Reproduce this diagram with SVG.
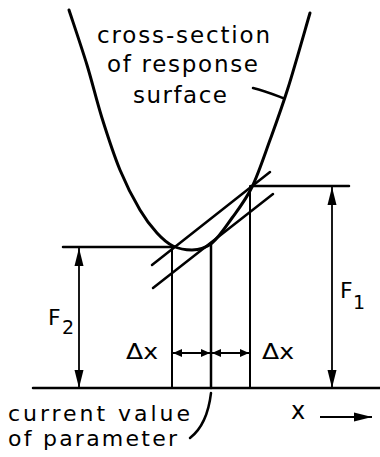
<svg xmlns="http://www.w3.org/2000/svg" width="380" height="457" viewBox="0 0 380 457">
<style>
  .ln{stroke:#000;fill:none;stroke-linecap:round}
  .t{font-family:"DejaVu Sans","Liberation Sans",sans-serif;fill:#000}
</style>
<defs>
  <marker id="big" markerUnits="userSpaceOnUse" markerWidth="19" markerHeight="10" refX="18" refY="5" orient="auto-start-reverse">
    <path d="M0,0.5 L18,5 L0,9.5 z" fill="#000"/>
  </marker>
  <marker id="small" markerUnits="userSpaceOnUse" markerWidth="10" markerHeight="9" refX="9" refY="4.5" orient="auto-start-reverse">
    <path d="M0,0.5 L9,4.5 L0,8.5 z" fill="#000"/>
  </marker>
</defs>
<rect width="380" height="457" fill="#fff"/>

<g id="curve">
  <path class="ln" stroke-width="3" d="M69,10 C72,19.2 81.5,47 87,65 C92.5,83 96.5,100.5 102,118 C107.5,135.5 113.7,154.7 120,170 C126.3,185.3 133.8,199.5 140,210 C146.2,220.5 151.5,227 157,233 C162.5,239 167.2,243.2 173,246 C178.8,248.8 185.5,250 192,250 C198.5,250 205.3,248.3 212,243 C218.7,237.7 225.3,227.3 232,218 C238.7,208.7 245.7,200 252,187 C258.3,174 264,156.5 270,140 C276,123.5 281.3,109.2 288,88 C294.7,66.8 306.3,25.5 310,13"/>
</g>

<g id="secants">
  <line class="ln" stroke-width="2.5" x1="152" y1="265" x2="270" y2="172"/>
  <line class="ln" stroke-width="2.5" x1="153" y1="288" x2="273" y2="194"/>
</g>

<g id="connectors">
  <line class="ln" stroke-width="2.5" x1="33" y1="388" x2="380" y2="388"/>
  <line class="ln" stroke-width="2.5" x1="63" y1="247" x2="173" y2="247"/>
  <line class="ln" stroke-width="2.5" x1="251" y1="186" x2="349" y2="186"/>
  <line class="ln" stroke-width="2" x1="172" y1="247" x2="172" y2="388"/>
  <line class="ln" stroke-width="2.5" x1="211" y1="243" x2="211" y2="388"/>
  <line class="ln" stroke-width="2" x1="250" y1="186" x2="250" y2="388"/>
  <line stroke="#000" stroke-width="1.8" x1="79" y1="248" x2="79" y2="388" marker-start="url(#big)" marker-end="url(#big)"/>
  <line stroke="#000" stroke-width="1.8" x1="332" y1="187" x2="332" y2="388" marker-start="url(#big)" marker-end="url(#big)"/>
  <line stroke="#000" stroke-width="2" x1="173" y1="353" x2="210" y2="353" marker-start="url(#small)" marker-end="url(#small)"/>
  <line stroke="#000" stroke-width="2" x1="212" y1="353" x2="249" y2="353" marker-start="url(#small)" marker-end="url(#small)"/>
  <line stroke="#000" stroke-width="2" x1="320" y1="417" x2="372" y2="417" marker-end="url(#big)"/>
  <path class="ln" stroke-width="2.5" d="M253,88 C265,91 275,95 283,98"/>
  <path class="ln" stroke-width="2.5" d="M211,393 C209,410 203,428 190,438"/>
</g>

<g id="label-surface">
  <text class="t" font-size="23" x="97" y="43" textLength="173" lengthAdjust="spacing">cross-section</text>
  <text class="t" font-size="23" x="107" y="72" textLength="151" lengthAdjust="spacing">of response</text>
  <text class="t" font-size="23" x="133" y="103" textLength="94" lengthAdjust="spacing">surface</text>
</g>

<g id="label-current">
  <text class="t" font-size="22" x="8" y="421" textLength="182" lengthAdjust="spacing">current value</text>
  <text class="t" font-size="22" x="8" y="446" textLength="169" lengthAdjust="spacing">of parameter</text>
</g>

<g id="label-F2">
  <text class="t" font-size="22" x="48" y="325">F</text>
  <text class="t" font-size="19" x="62" y="334">2</text>
</g>

<g id="label-F1">
  <text class="t" font-size="22" x="340" y="298">F</text>
  <text class="t" font-size="19" x="353" y="309">1</text>
</g>

<g id="label-dx">
  <text class="t" font-size="21" x="126" y="359" textLength="32" lengthAdjust="spacingAndGlyphs">Δx</text>
  <text class="t" font-size="21" x="262" y="359" textLength="32" lengthAdjust="spacingAndGlyphs">Δx</text>
</g>

<g id="label-x">
  <text class="t" font-size="24" x="291" y="419">x</text>
</g>
</svg>
